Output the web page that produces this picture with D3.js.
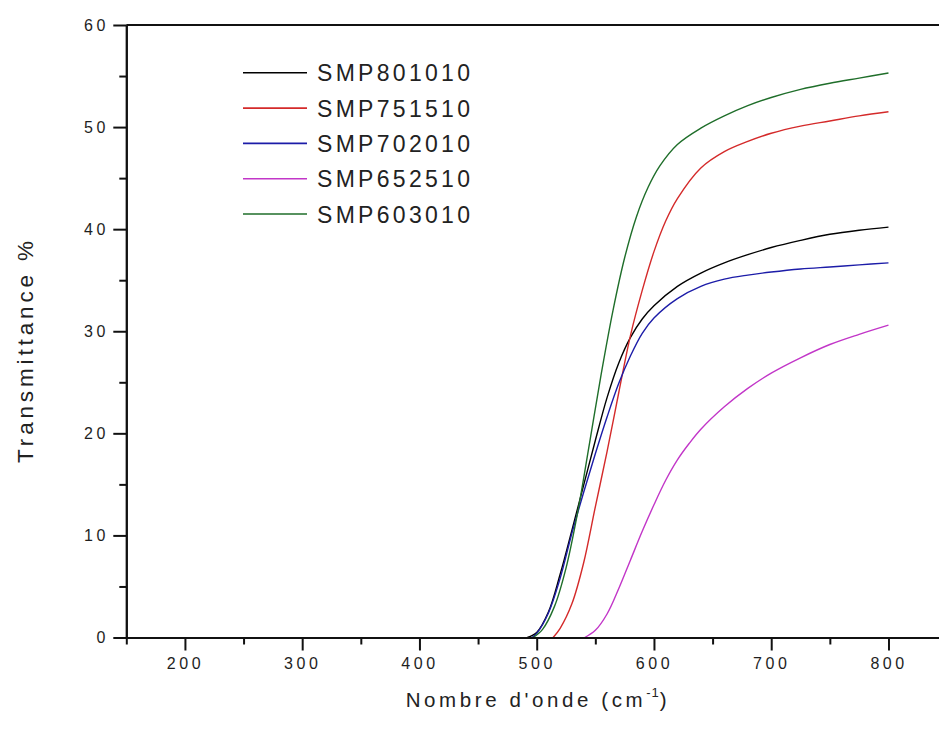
<!DOCTYPE html>
<html><head><meta charset="utf-8">
<script src="https://cdn.jsdelivr.net/npm/d3@7/dist/d3.min.js"></script>
<style>body{margin:0;background:#fff}svg{display:block}</style>
</head><body>
<svg id="chart" width="939" height="735"></svg>
<script>
// ---- data ----
const seriesNames = ["SMP801010", "SMP751510", "SMP702010", "SMP652510", "SMP603010"];

const wn_SMP801010 = [492, 500, 510, 520, 530, 540, 550, 560, 570, 580, 590, 600, 620, 640, 660, 680, 700, 725, 750, 775, 800];
const tr_SMP801010 = [0, 0.5, 2.5, 6.2, 10.5, 14.9, 19.3, 23.5, 26.9, 29.4, 31.2, 32.5, 34.4, 35.7, 36.7, 37.5, 38.2, 38.9, 39.5, 39.9, 40.2];

const wn_SMP751510 = [514, 520, 530, 540, 550, 560, 570, 580, 590, 600, 610, 620, 640, 660, 680, 700, 725, 750, 775, 800];
const tr_SMP751510 = [0, 0.9, 3.3, 7.3, 12.8, 18.2, 24.0, 29.6, 34.0, 37.8, 40.8, 43.0, 46.0, 47.6, 48.6, 49.4, 50.1, 50.6, 51.1, 51.5];

const wn_SMP702010 = [496, 500, 510, 520, 530, 540, 550, 560, 570, 580, 590, 600, 620, 640, 660, 680, 700, 725, 750, 775, 800];
const tr_SMP702010 = [0, 0.4, 2.4, 5.8, 10.2, 14.2, 18.0, 21.6, 24.9, 27.6, 29.8, 31.3, 33.2, 34.4, 35.1, 35.5, 35.8, 36.1, 36.3, 36.5, 36.7];

const wn_SMP652510 = [541, 550, 560, 570, 580, 590, 600, 610, 620, 630, 640, 660, 680, 700, 725, 750, 775, 800];
const tr_SMP652510 = [0, 0.7, 2.3, 4.8, 7.6, 10.4, 13.0, 15.4, 17.4, 19.0, 20.4, 22.6, 24.4, 25.9, 27.4, 28.7, 29.7, 30.6];

const wn_SMP603010 = [497, 505, 515, 525, 535, 545, 555, 565, 575, 585, 595, 605, 620, 640, 660, 680, 700, 725, 750, 775, 800];
const tr_SMP603010 = [0, 0.8, 3.0, 6.8, 12.3, 19.0, 25.8, 32.0, 37.2, 41.2, 44.1, 46.2, 48.3, 49.9, 51.1, 52.1, 52.9, 53.7, 54.3, 54.8, 55.3];

const xMajorTicks = [200, 300, 400, 500, 600, 700, 800];
const xMinorTicks = [150, 250, 350, 450, 550, 650, 750, 850];
const yMajorTicks = [0, 10, 20, 30, 40, 50, 60];
const yMinorTicks = [5, 15, 25, 35, 45, 55];

// ---- styles ----
const colors = {SMP801010: "#000000", SMP751510: "#d42a2a", SMP702010: "#1c1ca8", SMP652510: "#c236c8", SMP603010: "#1f6e2a"};

const seriesData = {
  SMP801010: d3.zip(wn_SMP801010, tr_SMP801010),
  SMP751510: d3.zip(wn_SMP751510, tr_SMP751510),
  SMP702010: d3.zip(wn_SMP702010, tr_SMP702010),
  SMP652510: d3.zip(wn_SMP652510, tr_SMP652510),
  SMP603010: d3.zip(wn_SMP603010, tr_SMP603010)
};

const svg = d3.select("#chart");
const x = d3.scaleLinear().domain([150, 850]).range([126.3, 947.1]);
const y = d3.scaleLinear().domain([0, 60]).range([637.5, 25]);

const font = "Arial, 'Liberation Sans', sans-serif";

// frame top line
svg.append("line").attr("x1", x(150)).attr("x2", x(850)).attr("y1", y(60)).attr("y2", y(60))
  .attr("stroke", "#111").attr("stroke-width", 2);

// data lines
const line = d3.line().x(d => x(d[0])).y(d => y(d[1])).curve(d3.curveCatmullRom.alpha(0.5));
seriesNames.forEach(n => {
  svg.append("path").datum(seriesData[n]).attr("d", line)
    .attr("fill", "none").attr("stroke", colors[n]).attr("stroke-width", 1.4);
});

// x axis
const xAxisG = svg.append("g").attr("transform", `translate(0,${y(0)})`);
xAxisG.call(d3.axisBottom(x).tickValues(xMajorTicks).tickSize(13).tickSizeOuter(0).tickPadding(7).tickFormat(d3.format("d")));
xAxisG.append("g").call(d3.axisBottom(x).tickValues(xMinorTicks).tickSize(7).tickSizeOuter(0).tickFormat(""));
// y axis
const yAxisG = svg.append("g").attr("transform", `translate(${x(150)},0)`);
yAxisG.call(d3.axisLeft(y).tickValues(yMajorTicks).tickSize(13).tickSizeOuter(0).tickPadding(8).tickFormat(d3.format("d")));
yAxisG.append("g").call(d3.axisLeft(y).tickValues(yMinorTicks).tickSize(7).tickSizeOuter(0).tickFormat(""));

svg.selectAll(".domain").attr("stroke", "#111").attr("stroke-width", 2);
svg.selectAll(".tick line").attr("stroke", "#111").attr("stroke-width", 2);
svg.selectAll(".tick text").attr("font-family", font).attr("font-size", 16)
  .attr("letter-spacing", 3.5).attr("fill", "#1e1e1e");
xAxisG.selectAll(".tick text").attr("dy", "0.72em").attr("dx", 0);
yAxisG.selectAll(".tick text").attr("dx", 3.5);

// axis titles
const xt = svg.append("text").attr("x", 538).attr("y", 707).attr("text-anchor", "middle")
  .attr("font-family", font).attr("font-size", 20.5).attr("fill", "#222").attr("letter-spacing", 3.6);
xt.append("tspan").text("Nombre d'onde (cm");
xt.append("tspan").attr("dy", -10).attr("font-size", 13).attr("letter-spacing", 1).text("-1");
xt.append("tspan").attr("dy", 10).text(")");

svg.append("text").attr("transform", "translate(33,352) rotate(-90)").attr("text-anchor", "middle")
  .attr("font-family", font).attr("font-size", 22.5).attr("fill", "#222")
  .attr("textLength", 222).attr("lengthAdjust", "spacing").text("Transmittance %");

// legend
seriesNames.forEach((n, i) => {
  const cy = 72.8 + i * 35.3;
  svg.append("line").attr("x1", 243).attr("x2", 307).attr("y1", cy).attr("y2", cy)
    .attr("stroke", colors[n]).attr("stroke-width", 1.6);
  svg.append("text").attr("x", 317).attr("y", cy + 8.5).attr("font-family", font).attr("font-size", 23)
    .attr("fill", "#222").attr("textLength", 153).attr("lengthAdjust", "spacing").text(n);
});
</script>
</body></html>
